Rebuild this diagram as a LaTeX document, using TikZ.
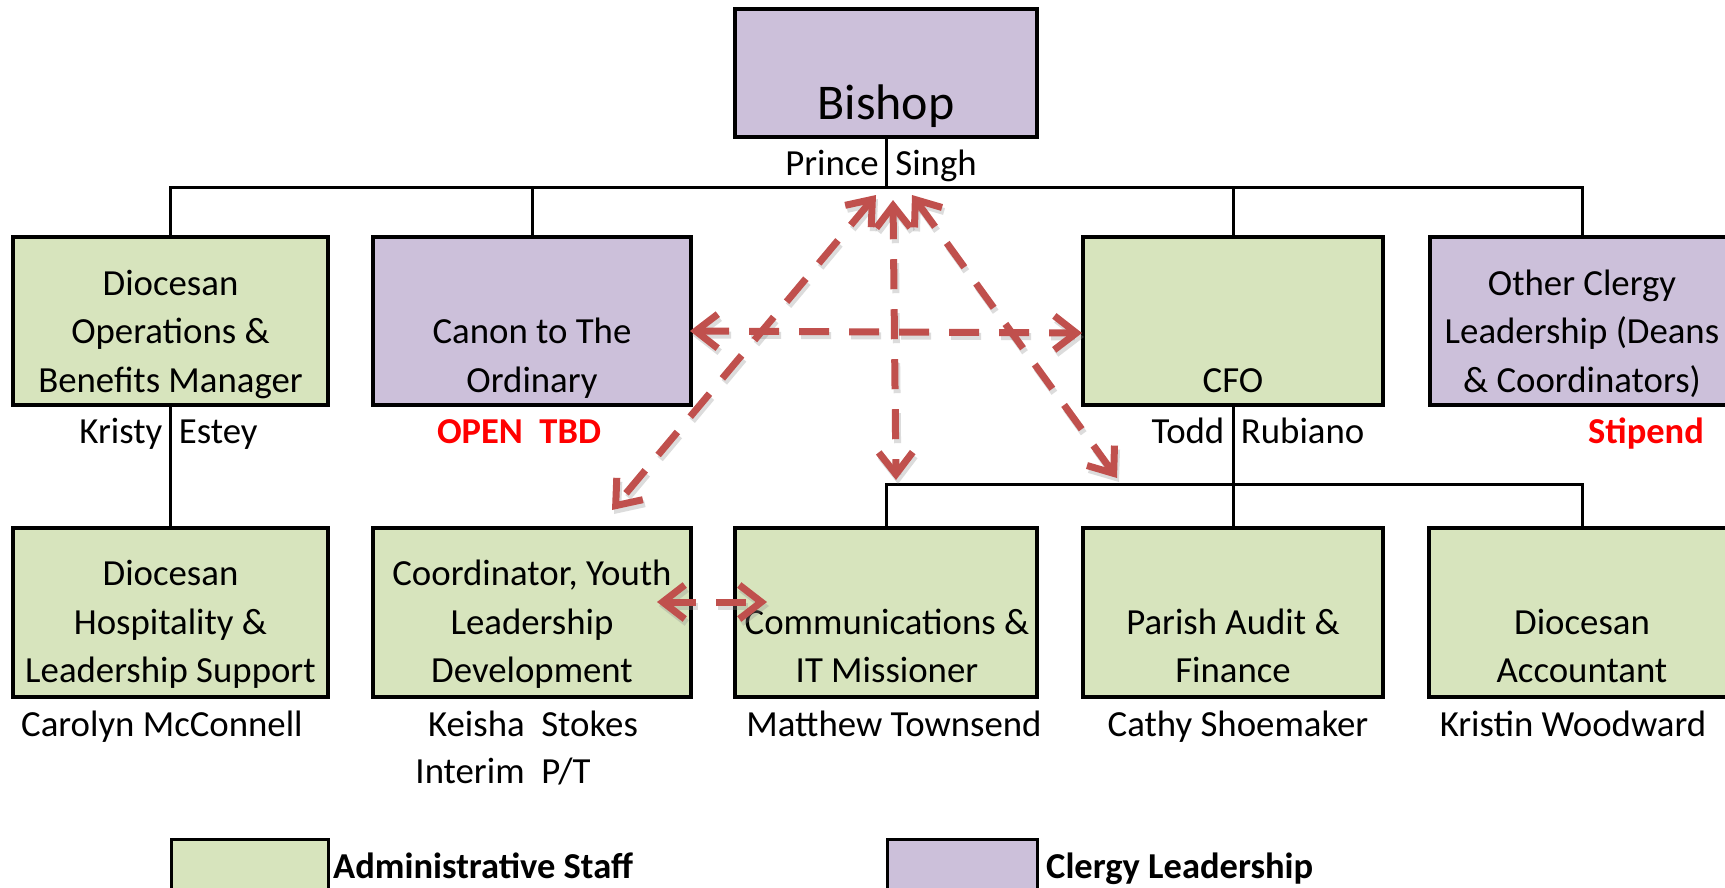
\documentclass[tikz,border=0pt]{standalone}
\usepackage{fontspec}
\setmainfont{Carlito}
\usetikzlibrary{arrows.meta}
\definecolor{purp}{HTML}{CCC0DA}
\definecolor{grn}{HTML}{D7E4BD}
\definecolor{arrred}{HTML}{C0504D}
\definecolor{txtred}{HTML}{FF0000}
\begin{document}
\begin{tikzpicture}[x=1pt,y=-1pt,
  box/.style={draw=black, line width=4.5pt, inner sep=0pt},
  lbox/.style={draw=black, line width=3pt, inner sep=0pt},
  txt/.style={anchor=base, inner sep=0pt, font=\fontsize{36.8}{43}\selectfont},
  btxt/.style={txt, font=\fontsize{36.5}{43}\selectfont\bfseries},
  redtxt/.style={btxt, text=txtred},
  conn/.style={draw=black, line width=3pt},
  arr/.style={draw=arrred, line width=7pt, dash pattern=on 30pt off 20pt,
    {Straight Barb[length=22pt,width=34pt]}-{Straight Barb[length=22pt,width=34pt]}},
  arrshadow/.style={arr, draw=black!45, opacity=0.3}
]
\clip (0,0) rectangle (1725,887);
\useasboundingbox (0,0) rectangle (1725,887);
\fill[white] (0,0) rectangle (1725,887);

% connector bus coordinates
\coordinate (bus1) at (887,187);
\coordinate (bus2) at (1234,484);

% boxes (row 0)
\node[box, fill=purp, minimum width=302pt, minimum height=128pt] (bishop) at (886,73) {};
% row 1
\node[box, fill=grn,  minimum width=315pt, minimum height=168pt] (ops)   at (170.5,321) {};
\node[box, fill=purp, minimum width=318pt, minimum height=168pt] (canon) at (532,321) {};
\node[box, fill=grn,  minimum width=300pt, minimum height=168pt] (cfo)   at (1233,321) {};
\node[box, fill=purp, minimum width=304pt, minimum height=168pt] (other) at (1582,321) {};
% row 2
\node[box, fill=grn, minimum width=315pt, minimum height=169pt] (hosp)  at (170.5,612.5) {};
\node[box, fill=grn, minimum width=318pt, minimum height=169pt] (youth) at (532,612.5) {};
\node[box, fill=grn, minimum width=302pt, minimum height=169pt] (comm)  at (886,612.5) {};
\node[box, fill=grn, minimum width=300pt, minimum height=169pt] (audit) at (1233,612.5) {};
\node[box, fill=grn, minimum width=306pt, minimum height=169pt] (acct)  at (1582,612.5) {};

% connectors
\draw[conn] (bishop.south) -- (bishop.south |- bus1);
\draw[conn] (ops.north) -- (ops.north |- bus1) -- (other.north |- bus1) -- (other.north);
\draw[conn] (canon.north) -- (canon.north |- bus1);
\draw[conn] (cfo.north) -- (cfo.north |- bus1);
\draw[conn] (ops.south) -- (hosp.north);
\draw[conn] (cfo.south) -- (audit.north);
\draw[conn] (comm.north) -- (comm.north |- bus2) -- (acct.north |- bus2) -- (acct.north);

% box texts
\node[txt, font=\fontsize{50}{55}\selectfont] (bishop-t) at (886,119) {Bishop};

\node[txt] (ops-t1) at (170.5,295) {Diocesan};
\node[txt] (ops-t2) at (170.5,343.5) {Operations \&};
\node[txt] (ops-t3) at (170.5,392) {Benefits Manager};

\node[txt] (canon-t1) at (532,343.5) {Canon to The};
\node[txt] (canon-t2) at (532,392) {Ordinary};

\node[txt] (cfo-t1) at (1233,392) {CFO};

\node[txt] (other-t1) at (1582,295) {Other Clergy};
\node[txt] (other-t2) at (1582,343.5) {Leadership (Deans};
\node[txt] (other-t3) at (1582,392) {\& Coordinators)};

\node[txt] (hosp-t1) at (170.5,585) {Diocesan};
\node[txt] (hosp-t2) at (170.5,634) {Hospitality \&};
\node[txt] (hosp-t3) at (170.5,682) {Leadership Support};

\node[txt] (youth-t1) at (532,585) {Coordinator, Youth};
\node[txt] (youth-t2) at (532,634) {Leadership};
\node[txt] (youth-t3) at (532,682) {Development};

\node[txt] (comm-t1) at (887,634) {Communications \&};
\node[txt] (comm-t2) at (887,682) {IT Missioner};

\node[txt] (audit-t1) at (1233,634) {Parish Audit \&};
\node[txt] (audit-t2) at (1233,682) {Finance};

\node[txt] (acct-t1) at (1582,634) {Diocesan};
\node[txt] (acct-t2) at (1582,682) {Accountant};

% names
\node[txt] (bishop-n) at (881,175) {Prince\ \ Singh};
\node[txt] (ops-n) at (168.5,443) {Kristy\ \ Estey};
\node[redtxt] (canon-n) at (519,443) {OPEN\ \ TBD};
\node[txt] (cfo-n) at (1258,443) {Todd\ \ Rubiano};
\node[redtxt] (other-n) at (1646,443) {Stipend};

\node[txt] (hosp-n) at (162,736) {Carolyn McConnell};
\node[txt] (youth-n1) at (533,736) {Keisha\ \ Stokes};
\node[txt] (youth-n2) at (503,783) {Interim\ \ P/T};
\node[txt] (comm-n) at (894,736) {Matthew Townsend};
\node[txt] (audit-n) at (1238,736) {Cathy Shoemaker};
\node[txt] (acct-n) at (1573,736) {Kristin Woodward};

% legend
\node[lbox, fill=grn, minimum width=157pt, minimum height=80pt] (leg-g) at (249.5,879) {};
\node[lbox, fill=purp, minimum width=150pt, minimum height=80pt] (leg-p) at (962,879) {};
\node[btxt, anchor=base west] (leg-gt) at (333,878) {Administrative Staff};
\node[btxt, anchor=base west] (leg-pt) at (1046,878) {Clergy Leadership};

% relationship arrows
\coordinate (vtop) at (893,200);
\coordinate (vbot) at (896,480);
\coordinate (ltop) at (876,195);
\coordinate (lbot) at (612,510);
\coordinate (rtop) at (912,195);
\coordinate (rbot) at (1117,478);
\coordinate (hl) at (690,331);
\coordinate (hr) at (1082,333);
\coordinate (sl) at (657,602);
\coordinate (sr) at (767,602);

\foreach \a/\b in {ltop/lbot, rtop/rbot, vtop/vbot, hl/hr, sl/sr}{
  \draw[arrshadow] ([shift={(2,4)}]\a) -- ([shift={(2,4)}]\b);
}
\foreach \a/\b in {ltop/lbot, rtop/rbot, vtop/vbot, hl/hr, sl/sr}{
  \draw[arr] (\a) -- (\b);
}
\end{tikzpicture}
\end{document}
